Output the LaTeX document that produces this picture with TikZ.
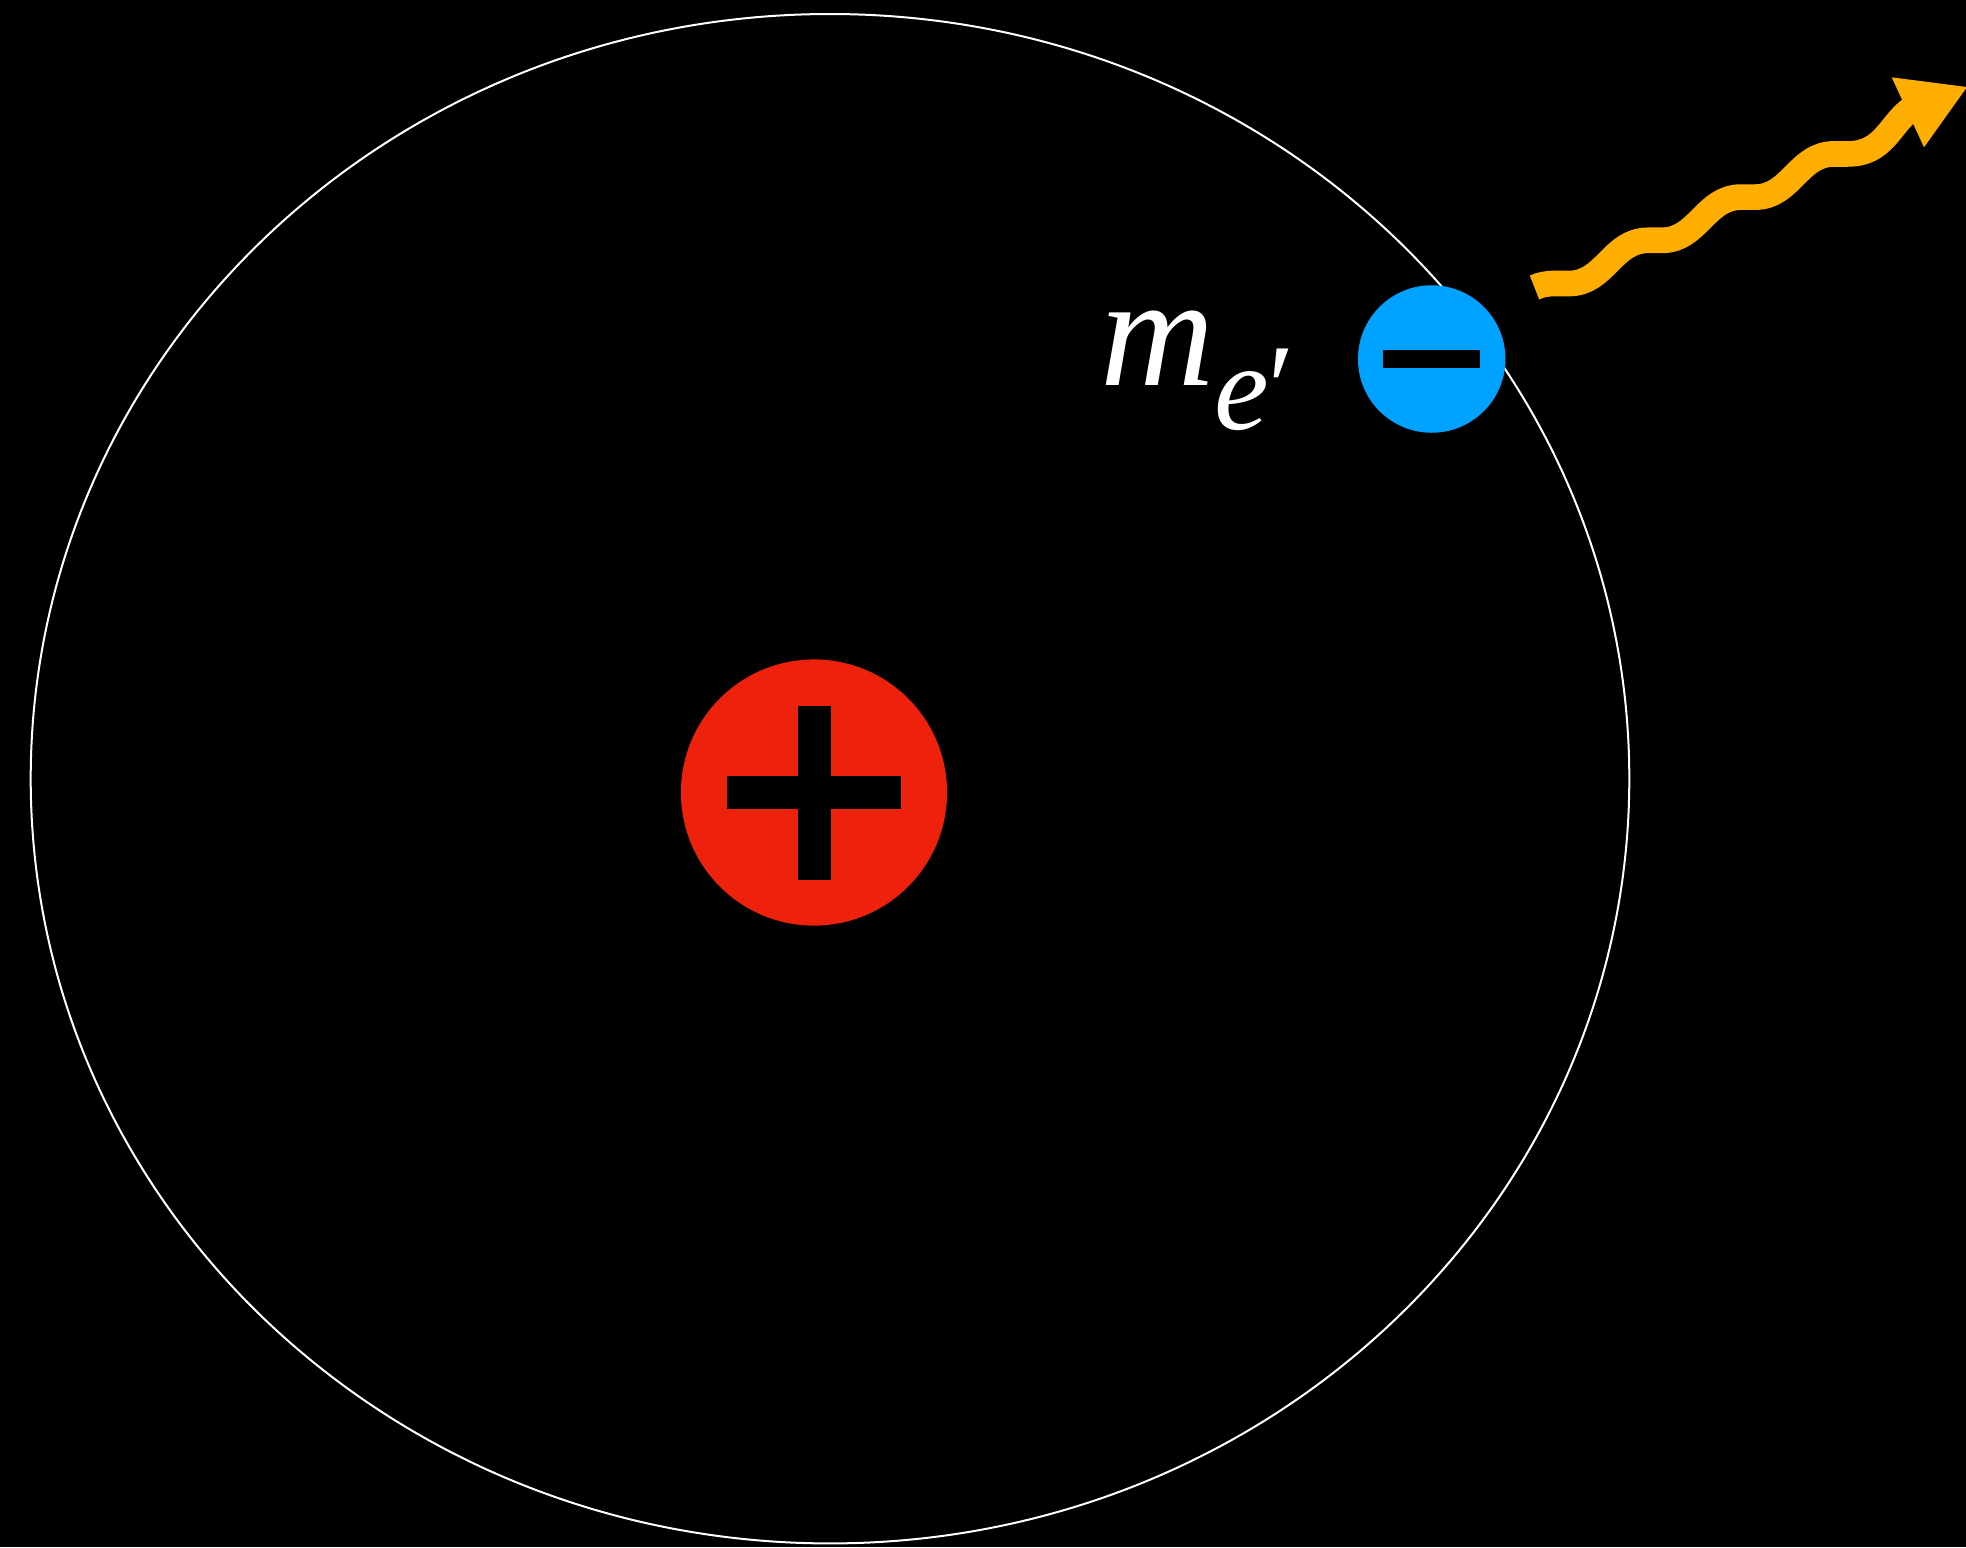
\documentclass[tikz,border=0pt]{standalone}
\usepackage{fontspec}
\newfontfamily\labfont{Liberation Serif Italic}
\definecolor{protonred}{HTML}{EE220C}
\definecolor{electronblue}{HTML}{00A2FF}
\definecolor{photonorange}{HTML}{FEAE00}
\tikzset{
  orbit/.style={draw=white, line width=0.57pt},
  particle/.style={circle, inner sep=0pt, outer sep=0pt},
  photon/.style={draw=photonorange, line width=7.3pt, line join=round},
}
\begin{document}
\begin{tikzpicture}[x=0.01cm, y=-0.01cm]
\fill[black] (0,0) rectangle (1966,1547);
\useasboundingbox (0,0) rectangle (1966,1547);
\clip (0,0) rectangle (1966,1547);
% orbit
\draw[orbit] (830,778.7) ellipse [x radius=799.3, y radius=764.7];
% proton
\node[particle, fill=protonred, minimum size=2.66cm] (p) at (814,792.5) {};
\fill[black] (p.center) ++(-16.5,-87) rectangle ++(33,174);
\fill[black] (p.center) ++(-87,-16.5) rectangle ++(174,33);
% electron
\node[particle, fill=electronblue, minimum size=1.474cm] (e) at (1431.7,359) {};
\fill[black] (e.center) ++(-48.5,-9.2) rectangle ++(97,18.4);
% label
\node[anchor=base west, inner sep=0pt, text=white, font=\labfont\fontsize{45}{50}\selectfont] (lab) at (1100,385.7) {m\raisebox{-12.5pt}{\fontsize{35}{40}\selectfont e\kern-2.5pt\char"2032}};
% photon
\coordinate (w0) at (1534.5,287.5);
\coordinate (w1) at (1911,109);
\draw[photon] (w0) .. controls (1541,284.5) and (1547,283.5) .. (1555,283.5)
  -- (1569,283.5) .. controls (1605,283.5) and (1612,240.3) .. (1648,240.3)
  -- (1662,240.3) .. controls (1698,240.3) and (1705,197.1) .. (1741,197.1)
  -- (1755,197.1) .. controls (1791,197.1) and (1798,153.9) .. (1834,153.9)
  -- (1848,153.9) .. controls (1884,153.9) and (1890,124) .. (w1);
\coordinate (h1) at (1891.7,77.3);
\coordinate (h2) at (1967,87);
\coordinate (h3) at (1924,147.3);
\fill[photonorange] (h1) -- (h2) -- (h3) -- cycle;
\end{tikzpicture}
\end{document}
